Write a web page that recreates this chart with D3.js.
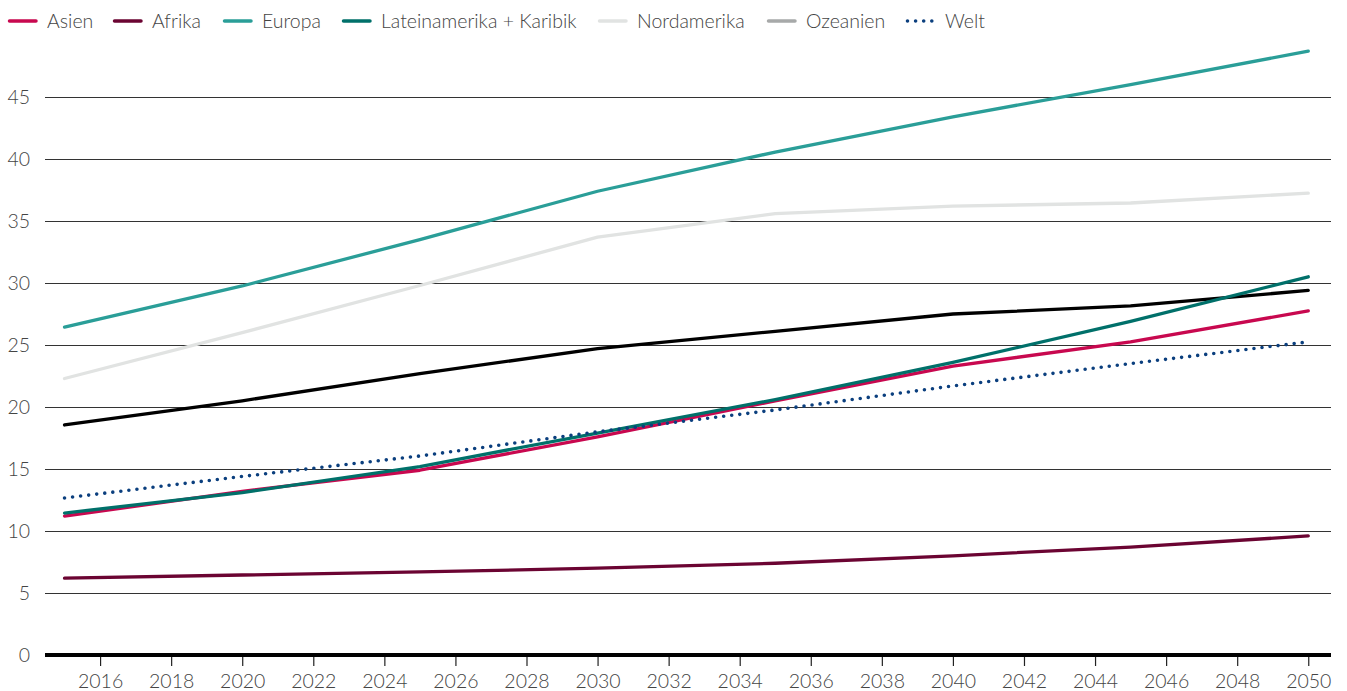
<!DOCTYPE html>
<html>
<head>
<meta charset="utf-8">
<script src="https://cdn.jsdelivr.net/npm/d3@7"></script>
<style>
  html, body { margin: 0; padding: 0; background: #fff; }
  svg { display: block; font-family: Lato, "Open Sans", sans-serif; font-weight: 300; }
</style>
</head>
<body>
<svg id="chart" width="1347" height="691"></svg>
<script>
// Years with data points
const years = [2015, 2020, 2025, 2030, 2035, 2040, 2045, 2050];

// Series values per region
const asien        = [11.2, 13.2, 14.9, 17.6, 20.5, 23.3, 25.25, 27.75];
const afrika       = [6.2, 6.45, 6.7, 7.0, 7.4, 8.0, 8.7, 9.6];
const europa       = [26.45, 29.76, 33.5, 37.4, 40.56, 43.4, 46.0, 48.7];
const lateinamerika = [11.45, 13.1, 15.2, 17.9, 20.6, 23.6, 26.9, 30.5];
const nordamerika  = [22.3, 26.0, 29.8, 33.7, 35.6, 36.2, 36.45, 37.25];
const ozeanien     = [18.55, 20.5, 22.7, 24.7, 26.1, 27.5, 28.15, 29.4];
const welt         = [12.66, 14.4, 16.05, 18.0, 19.76, 21.7, 23.5, 25.25];

const seriesNames = ["Asien", "Afrika", "Europa", "Lateinamerika + Karibik", "Nordamerika", "Ozeanien", "Welt"];
const seriesData  = [asien, afrika, europa, lateinamerika, nordamerika, ozeanien, welt];

// Tick labels
const xTicks = d3.range(2016, 2051, 2);
const yTicks = [0, 5, 10, 15, 20, 25, 30, 35, 40, 45];

const styles = {
  "Asien":                   { legend: "#c8084f", line: "#c8084f", dotted: false },
  "Afrika":                  { legend: "#6b0432", line: "#6b0432", dotted: false },
  "Europa":                  { legend: "#2a9e98", line: "#2a9e98", dotted: false },
  "Lateinamerika + Karibik": { legend: "#00706a", line: "#00706a", dotted: false },
  "Nordamerika":             { legend: "#e1e3e2", line: "#e1e3e2", dotted: false },
  "Ozeanien":                { legend: "#a7a9a9", line: "#000000", dotted: false },
  "Welt":                    { legend: "#0b3f7e", line: "#0b3f7e", dotted: true }
};

const FS = 19.5;
const TXT = "#444";

const svg = d3.select("#chart");
const left = 45, right = 1331;

const x = d3.scaleLinear().domain([2014.45, 2050.64]).range([left, right]);
const y = d3.scaleLinear().domain([0, 45]).range([655, 97]);

// Grid lines
const gridG = svg.append("g");
gridG.selectAll("line.grid")
  .data(yTicks.filter(v => v > 0))
  .join("line")
  .attr("x1", left).attr("x2", right)
  .attr("y1", d => y(d)).attr("y2", d => y(d))
  .attr("stroke", "#333").attr("stroke-width", 1)
  .attr("shape-rendering", "crispEdges");

// Y labels
gridG.selectAll("text.ylab")
  .data(yTicks)
  .join("text")
  .attr("x", 30).attr("y", d => y(d))
  .attr("dy", "0.35em")
  .attr("text-anchor", "end")
  .attr("font-size", FS)
  .attr("fill", TXT)
  .text(d => d);

// X axis ticks & labels
const xAxis = d3.axisBottom(x).tickValues(xTicks).tickFormat(d3.format("d")).tickSize(11).tickPadding(8);
const xg = svg.append("g").attr("transform", `translate(0,${y(0)})`).call(xAxis);
xg.select(".domain").remove();
xg.selectAll(".tick line").attr("stroke", "#222").attr("stroke-width", 1.2);
xg.selectAll(".tick text")
  .attr("font-family", "Lato, 'Open Sans', sans-serif")
  .attr("font-weight", 300)
  .attr("font-size", FS)
  .attr("fill", TXT);

// Lines
const lineGen = d3.line().x((d, i) => x(years[i])).y(d => y(d));
const order = ["Nordamerika", "Europa", "Ozeanien", "Afrika", "Asien", "Lateinamerika + Karibik", "Welt"];
order.forEach(name => {
  const s = styles[name];
  const vals = seriesData[seriesNames.indexOf(name)];
  const p = svg.append("path")
    .datum(vals)
    .attr("d", lineGen)
    .attr("fill", "none")
    .attr("stroke", s.line)
    .attr("stroke-linecap", "round")
    .attr("stroke-linejoin", "round");
  if (s.dotted) {
    p.attr("stroke-width", 3.6).attr("stroke-dasharray", "0,8.1");
  } else {
    p.attr("stroke-width", 3.3);
  }
});

// Zero baseline
svg.append("line")
  .attr("x1", left).attr("x2", right)
  .attr("y1", y(0)).attr("y2", y(0))
  .attr("stroke", "#000").attr("stroke-width", 4);

// Legend
const legendX = [8, 113, 223, 342, 598, 767, 906];
const lg = svg.append("g");
seriesNames.forEach((name, i) => {
  const s = styles[name];
  const g = lg.append("g").attr("transform", `translate(${legendX[i]},20)`);
  const ln = g.append("line").attr("x1", 1.5).attr("x2", 28).attr("y1", 1).attr("y2", 1)
    .attr("stroke", s.legend).attr("stroke-linecap", "round");
  if (s.dotted) ln.attr("stroke-width", 3.6).attr("stroke-dasharray", "0,8.1");
  else ln.attr("stroke-width", 3.5);
  g.append("text").attr("x", 39).attr("y", 1).attr("dy", "0.35em")
    .attr("font-size", FS).attr("fill", TXT).text(name);
});
</script>
</body>
</html>
